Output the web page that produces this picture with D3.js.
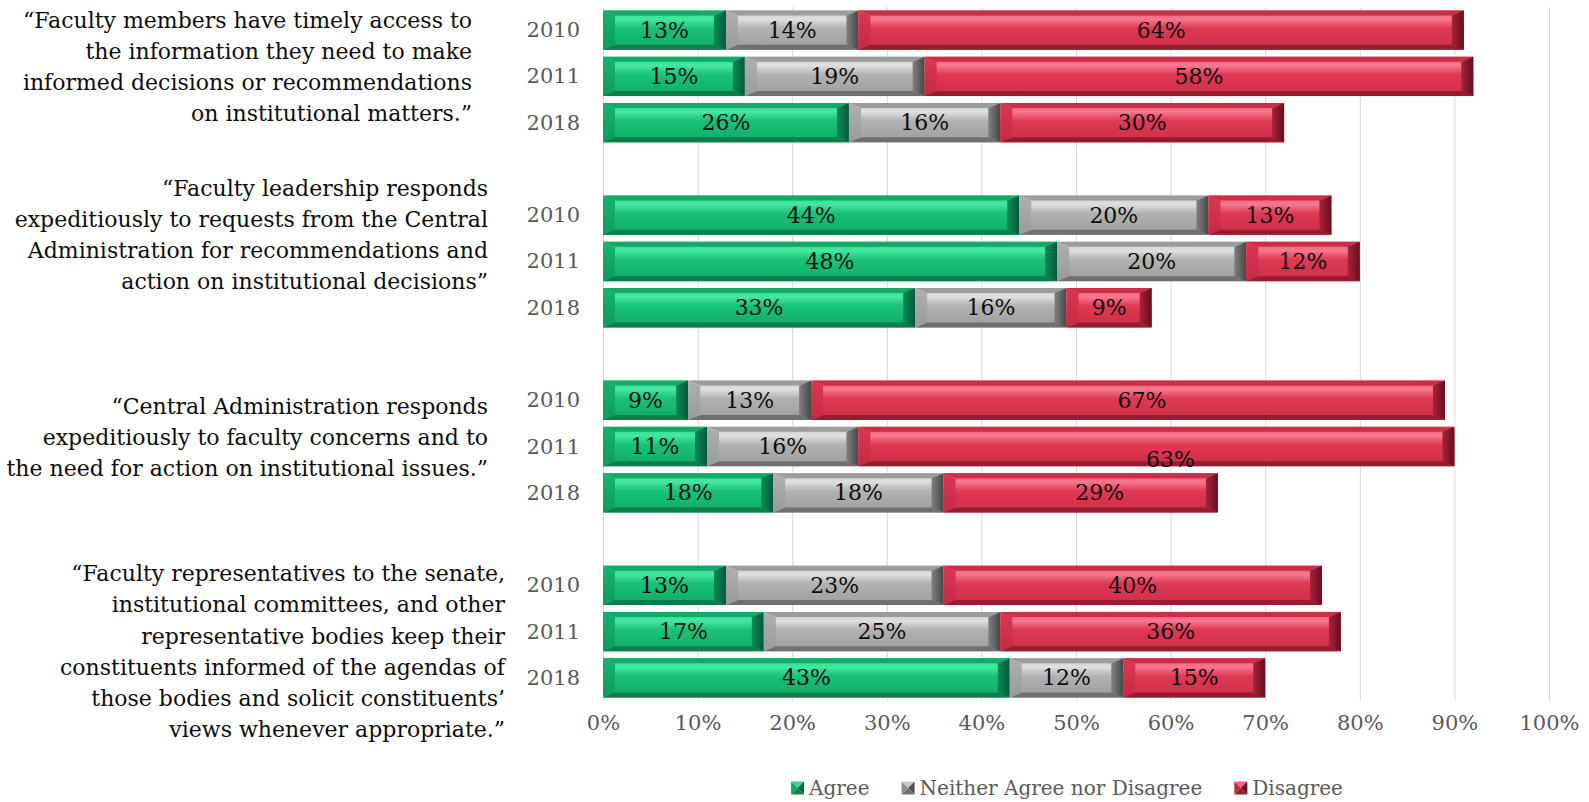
<!DOCTYPE html>
<html><head><meta charset="utf-8">
<script src="https://cdn.jsdelivr.net/npm/d3@7"></script>
<style>body{margin:0;background:#fff} svg{display:block}</style>
</head><body><svg id="c" width="1589" height="802"></svg>
<script>
// ---------- data ----------
const questions = [
  ["“Faculty members have timely access to","the information they need to make","informed decisions or recommendations","on institutional matters.”"],
  ["“Faculty leadership responds","expeditiously to requests from the Central","Administration for recommendations and","action on institutional decisions”"],
  ["“Central Administration responds","expeditiously to faculty concerns and to","the need for action on institutional issues.”"],
  ["“Faculty representatives to the senate,","institutional committees, and other","representative bodies keep their","constituents informed of the agendas of","those bodies and solicit constituents’","views whenever appropriate.”"]
];
const years = ["2010","2011","2018"];
const seriesNames = ["Agree","Neither Agree nor Disagree","Disagree"];
const agree    = [[13,15,26],[44,48,33],[9,11,18],[13,17,43]];
const neither  = [[14,19,16],[20,20,16],[13,16,18],[23,25,12]];
const disagree = [[64,58,30],[13,12,9],[67,63,29],[40,36,15]];
const xTicks = [0,10,20,30,40,50,60,70,80,90,100];

// ---------- layout / style ----------
const FONT = "'DejaVu Serif', serif";
const plot = {left: 603, right: 1549, top: 7, bottom: 701};
const labelRight = [472, 488, 488, 505];      // right edge of each question block
const labelShift = [-9.5, -26.4, -9.3, 20];   // block centre offset from middle bar
const lineH = 31.2;
// manual label nudges seen in the original [question-year-series] -> [dx, dy]
const nudges = {"2-0-2":[14,0], "2-1-2":[14,13], "2-2-2":[19,0]};

const palettes = [
  {flat:["#2ad48a","#46e7a2","#19c279","#10aa67"], top:"#14a967", bottom:"#0b7e4c", left:["#16b470","#0e9a5e"], right:["#0d8c55","#06583a"], icon:["#35d996","#10a868","#086b41","#0b8550"]},
  {flat:["#c6c6c6","#e0e0e0","#b2b2b2","#9d9d9d"], top:"#9c9c9c", bottom:"#6f6f6f", left:["#b0b0b0","#9a9a9a"], right:["#808080","#474747"], icon:["#c9c9c9","#8f8f8f","#4f4f4f","#707070"]},
  {flat:["#ec5069","#f77a90","#df3955","#cd2d48"], top:"#cb2e49", bottom:"#981c31", left:["#dc3752","#c42a44"], right:["#a9223a","#660e1d"], icon:["#f0647c","#c42a44","#6d1020","#961c31"]}
];

const svg = d3.select("#c");
const defs = svg.append("defs");
palettes.forEach((p, i) => {
  const g = defs.append("linearGradient").attr("id","flat"+i).attr("x1",0).attr("x2",0).attr("y1",0).attr("y2",1);
  [[0,p.flat[0]],[0.22,p.flat[1]],[0.45,p.flat[2]],[1,p.flat[3]]].forEach(([o,c]) => g.append("stop").attr("offset",o).attr("stop-color",c));
  const l = defs.append("linearGradient").attr("id","left"+i).attr("x1",0).attr("x2",0).attr("y1",0).attr("y2",1);
  l.append("stop").attr("offset",0).attr("stop-color",p.left[0]);
  l.append("stop").attr("offset",1).attr("stop-color",p.left[1]);
});

// rows (with blank rows between question groups)
const rowKeys = [];
questions.forEach((q, qi) => {
  if (qi > 0) rowKeys.push("gap" + qi);
  years.forEach(y => rowKeys.push(qi + "-" + y));
});
const y = d3.scaleBand().domain(rowKeys).range([plot.top, plot.bottom]).paddingInner(0.15).paddingOuter(0.075);
const x = d3.scaleLinear().domain([0, 100]).range([plot.left, plot.right]);

// gridlines
svg.append("g").selectAll("line").data(xTicks).join("line")
  .attr("x1", d => x(d) + 0.5).attr("x2", d => x(d) + 0.5)
  .attr("y1", plot.top).attr("y2", plot.bottom)
  .attr("stroke", "#d9d9d9").attr("stroke-width", 1);

// x axis labels
const xAxis = d3.axisBottom(x).tickValues(xTicks).tickFormat(d => d + "%").tickSize(0).tickPadding(0);
const ax = svg.append("g").attr("transform", `translate(0,${plot.bottom + 14})`).call(xAxis);
ax.select(".domain").remove();
ax.selectAll("text").attr("font-family", FONT).attr("font-size", 21).attr("fill", "#595959").attr("dy", "0.71em");

// build segments
const seriesVals = [agree, neither, disagree];
const segs = [];
questions.forEach((q, qi) => years.forEach((yr, yi) => {
  let acc = 0;
  seriesVals.forEach((arr, si) => {
    const v = arr[qi][yi];
    segs.push({qi, yi, si, v, x0: acc, x1: acc + v, key: qi + "-" + yr});
    acc += v;
  });
}));

const barG = svg.append("g");
segs.forEach(s => {
  const x0 = x(s.x0), x1 = x(s.x1), y0 = y(s.key), h = y.bandwidth(), y1 = y0 + h;
  const w = x1 - x0, b = Math.min(12, w / 2), t = Math.min(5, h / 2);
  const p = palettes[s.si];
  const g = barG.append("g");
  g.append("rect").attr("x", x0).attr("y", y0).attr("width", w).attr("height", h).attr("fill", `url(#flat${s.si})`);
  const poly = (pts, fill) => g.append("polygon").attr("points", pts.map(d => d.join(",")).join(" ")).attr("fill", fill);
  poly([[x0,y0],[x1,y0],[x1-b,y0+t],[x0+b,y0+t]], p.top);
  poly([[x0,y1],[x1,y1],[x1-b,y1-t],[x0+b,y1-t]], p.bottom);
  poly([[x0,y0],[x0+b,y0+t],[x0+b,y1-t],[x0,y1]], `url(#left${s.si})`);
  const id = `rg${s.qi}${s.yi}${s.si}`;
  const rg = defs.append("linearGradient").attr("id", id).attr("gradientUnits","userSpaceOnUse")
    .attr("x1", x1 - b).attr("x2", x1).attr("y1", 0).attr("y2", 0);
  rg.append("stop").attr("offset",0).attr("stop-color",p.right[0]);
  rg.append("stop").attr("offset",1).attr("stop-color",p.right[1]);
  poly([[x1,y0],[x1-b,y0+t],[x1-b,y1-t],[x1,y1]], `url(#${id})`);
  const nd = nudges[`${s.qi}-${s.yi}-${s.si}`] || [0,0];
  g.append("text").attr("x", (x0 + x1) / 2 + nd[0]).attr("y", y0 + h / 2 + nd[1])
    .attr("text-anchor","middle").attr("dominant-baseline","central")
    .attr("font-family", FONT).attr("font-size", 22).attr("fill","#0d0d0d")
    .text(s.v + "%");
});

// year labels
svg.append("g").selectAll("text").data(rowKeys.filter(k => !k.startsWith("gap"))).join("text")
  .attr("x", 580).attr("y", k => y(k) + y.bandwidth() / 2)
  .attr("text-anchor","end").attr("dominant-baseline","central")
  .attr("font-family", FONT).attr("font-size", 21).attr("fill","#595959")
  .text(k => k.split("-")[1]);

// question labels
questions.forEach((lines, qi) => {
  const mid = y(qi + "-" + years[1]) + y.bandwidth() / 2 + labelShift[qi];
  const start = mid - (lines.length - 1) * lineH / 2;
  svg.append("g").selectAll("text").data(lines).join("text")
    .attr("x", labelRight[qi]).attr("y", (d, i) => start + i * lineH)
    .attr("text-anchor","end").attr("dominant-baseline","central")
    .attr("font-family", FONT).attr("font-size", 22).attr("fill","#0d0d0d")
    .text(d => d);
});

// legend
const leg = svg.append("g").attr("transform", "translate(0,788)");
const items = [];
seriesNames.forEach((name, i) => {
  const g = leg.append("g");
  const s = 13, p = palettes[i];
  const tri = (pts, fill) => g.append("polygon").attr("points", pts.map(d => d.join(",")).join(" ")).attr("fill", fill);
  tri([[0,-s/2],[s,-s/2],[s/2,0]], p.icon[0]);
  tri([[0,-s/2],[s/2,0],[0,s/2]], p.icon[1]);
  tri([[s,-s/2],[s,s/2],[s/2,0]], p.icon[2]);
  tri([[0,s/2],[s,s/2],[s/2,0]], p.icon[3]);
  const t = g.append("text").attr("x", s + 5).attr("y", 0).attr("dominant-baseline","central")
    .attr("font-family", FONT).attr("font-size", 20).attr("fill","#595959").text(name);
  items.push({g, wdt: s + 5 + t.node().getComputedTextLength()});
});
const gapL = 32;
const total = d3.sum(items, d => d.wdt) + gapL * (items.length - 1);
let lx = 1067 - total / 2;
items.forEach(it => { it.g.attr("transform", `translate(${lx},0)`); lx += it.wdt + gapL; });
</script></body></html>
